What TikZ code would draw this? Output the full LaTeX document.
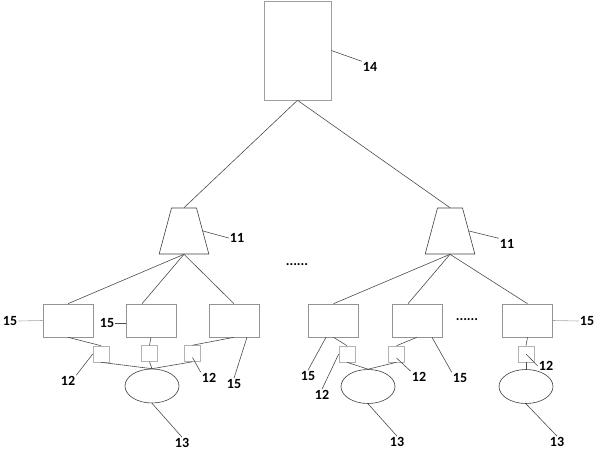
\documentclass[tikz,border=0pt]{standalone}
\usepackage{fontspec}
\setmainfont{Carlito}
\usepackage{tikz}
\usetikzlibrary{shapes.geometric,positioning}

\begin{document}
\begin{tikzpicture}[
    x=1pt, y=-1pt,
    link/.style={draw=black!70, line width=0.6pt},
    ctrlbox/.style={rectangle, draw=gray!75, line width=0.6pt, minimum width=67pt, minimum height=99pt, inner sep=0pt},
    switch/.style={trapezium, draw=black!75, line width=0.6pt, trapezium angle=75, inner xsep=12.5pt, inner ysep=23pt},
    unit/.style={rectangle, draw=gray!85, line width=0.6pt, minimum width=50pt, minimum height=33pt, inner sep=0pt},
    port/.style={rectangle, draw=gray!60, line width=0.6pt, minimum size=16pt, inner sep=0pt},
    device/.style={ellipse, draw=black!75, line width=0.6pt, minimum width=54pt, minimum height=34pt, inner sep=0pt},
    tag/.style={font=\fontsize{14}{16}\selectfont\bfseries, inner sep=1pt},
]
    \useasboundingbox (0,0) rectangle (595,450);

    \node[ctrlbox] (ctrl) at (297.5,50.5) {};
    \node[switch] (sw1) at (184,231) {};
    \node[switch] (sw2) at (450,231) {};

    \node[unit] (b1) at (68,320.5) {};
    \node[unit] (b2) at (151,320.5) {};
    \node[unit] (b3) at (234,320.5) {};
    \node[unit] (b4) at (333.5,320.5) {};
    \node[unit] (b5) at (417,320.5) {};
    \node[unit] (b6) at (527.5,320.5) {};

    \node[port] (s1) at (101,354) {};
    \node[port] (s2) at (149.5,353.5) {};
    \node[port] (s3) at (192.5,353.5) {};
    \node[port] (s4) at (347,354) {};
    \node[port] (s5) at (396.5,354) {};
    \node[port] (s6) at (526,354) {};

    \node[device] (e1) at (152,386) {};
    \node[device] (e2) at (368,386.5) {};
    \node[device] (e3) at (526,386.5) {};

    \node[tag] (d1) at (297,265) {......};
    \node[tag] (d2) at (467,320) {......};

    \draw[link] (ctrl.south) -- (sw1.north);
    \draw[link] (ctrl.south) -- (sw2.north);
    \draw[link] (sw1.south) -- (b1.north);
    \draw[link] (sw1.south) -- ([xshift=-9pt]b2.north);
    \draw[link] (sw1.south) -- (b3.north);
    \draw[link] (sw2.south) -- (b4.north);
    \draw[link] (sw2.south) -- ([xshift=-9pt]b5.north);
    \draw[link] (sw2.south) -- (b6.north);

    \draw[link] (b1.south) -- (s1.north);
    \draw[link] (b2.south) -- (s2.north);
    \draw[link] (b3.south) -- (s3.north);
    \draw[link] (b4.south) -- (s4.north);
    \draw[link] (b5.south) -- (s5.north);
    \draw[link] (b6.south) -- (s6.north);
    \draw[link] (s1.south) -- (e1.north);
    \draw[link] (s2.south) -- (e1.north);
    \draw[link] (s3.south) -- (e1.north);
    \draw[link] (s4.south) -- (e2.north);
    \draw[link] (s5.south) -- (e2.north);
    \draw[link] (s6.south) -- (e3.north);

    \node[tag] (l14) at (370,67) {14};
    \node[tag] (l11a) at (237,238) {11};
    \node[tag] (l11b) at (507,244) {11};
    \node[tag] (l15a) at (10,321) {15};
    \node[tag] (l15b) at (107,323) {15};
    \node[tag] (l15c) at (234,384) {15};
    \node[tag] (l15d) at (308,376) {15};
    \node[tag] (l15e) at (460,378) {15};
    \node[tag] (l15f) at (587,321) {15};
    \node[tag] (l12a) at (68,381) {12};
    \node[tag] (l12b) at (209,378) {12};
    \node[tag] (l12c) at (322,395) {12};
    \node[tag] (l12d) at (419,377) {12};
    \node[tag] (l12e) at (546,366) {12};
    \node[tag] (l13a) at (182,443) {13};
    \node[tag] (l13b) at (397,442) {13};
    \node[tag] (l13c) at (557,442) {13};

    \draw[link] (ctrl.east) -- (l14.north west);
    \draw[link] (sw1.east) -- (l11a.west);
    \draw[link] (sw2.east) -- (l11b.north west);
    \draw[link, draw=gray!70] (l15a.east) -- (b1.west);
    \draw[link] (l15b.east) -- (l15b.east -| b2.west);
    \draw[link] ([xshift=13pt]b3.south) -- (l15c.north);
    \draw[link] ([xshift=-7.5pt]b4.south) -- (l15d.north);
    \draw[link] ([xshift=15pt]b5.south) -- (l15e.north west);
    \draw[link, draw=gray!70] (b6.east) -- (l15f.west);
    \draw[link] (s1.west) -- (l12a.north east);
    \draw[link] ([yshift=-4pt]s3.center) -- (l12b.north west);
    \draw[link] (s4.west) -- (l12c.north);
    \draw[link] ([yshift=-4pt]s5.center) -- (l12d.north west);
    \draw[link] (s6.center) -- (l12e.west);
    \draw[link] (e1.south) -- (l13a.north);
    \draw[link] (e2.south) -- (l13b.north);
    \draw[link] (e3.south) -- (l13c.north);
\end{tikzpicture}
\end{document}
